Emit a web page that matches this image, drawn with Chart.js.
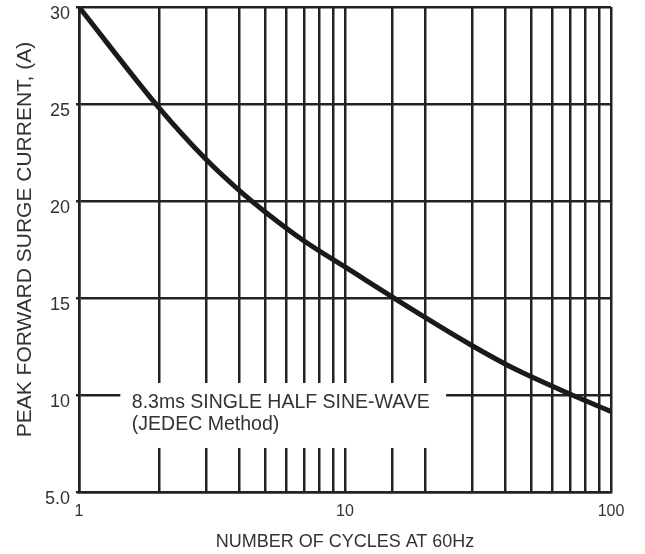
<!DOCTYPE html>
<html>
<head>
<meta charset="utf-8">
<style>
  html, body { margin: 0; padding: 0; background: #fff; }
  #c { display: block; }
</style>
<script src="https://cdn.jsdelivr.net/npm/chart.js@4.4.1/dist/chart.umd.min.js"></script>
</head>
<body>
<canvas id="c" width="645" height="554"></canvas>
<script>
// ---- data ----
const cycles  = [1, 2, 3, 4, 5, 7, 10, 20, 30, 40, 50, 70, 100];
const current = [30, 24.8, 22.15, 20.55, 19.45, 17.95, 16.6, 14.0, 12.55, 11.6, 10.95, 10.05, 9.15];

const xLabelTicks = [1, 10, 100];
const yTicks = [5, 10, 15, 20, 25, 30];
const yTickLabels = ['5.0', '10', '15', '20', '25', '30'];

const xTitle = 'NUMBER OF CYCLES AT 60Hz';
const yTitle = 'PEAK FORWARD SURGE CURRENT, (A)';

const noteLines = ['8.3ms SINGLE HALF SINE-WAVE', '(JEDEC Method)'];
const noteBoxX = [1.43, 24];     // in cycles (data units)
const noteBoxY = [7.27, 10.62];  // in amps (data units)
const noteTextX = 1.58;
const noteTextY = [9.6, 8.45];

// ---- chart ----
const INK = '#222222';
const TXT = '#333333';
const FAMILY = "'Liberation Sans', Arial, sans-serif";
Chart.defaults.font.family = FAMILY;
Chart.defaults.color = TXT;

const notePlugin = {
  id: 'note',
  beforeDatasetsDraw(chart) {
    const ctx = chart.ctx;
    const xs = chart.scales.x, ys = chart.scales.y;
    const x0 = xs.getPixelForValue(noteBoxX[0]), x1 = xs.getPixelForValue(noteBoxX[1]);
    const y0 = ys.getPixelForValue(noteBoxY[1]), y1 = ys.getPixelForValue(noteBoxY[0]);
    ctx.save();
    ctx.fillStyle = '#ffffff';
    ctx.fillRect(x0, y0, x1 - x0, y1 - y0);
    ctx.fillStyle = TXT;
    ctx.font = "19.5px " + FAMILY;
    ctx.textAlign = 'left';
    ctx.textBaseline = 'middle';
    const tx = xs.getPixelForValue(noteTextX);
    noteLines.forEach((s, i) => ctx.fillText(s, tx, ys.getPixelForValue(noteTextY[i])));
    ctx.restore();
  },
  afterDraw(chart) {
    // y-axis title, centred slightly above the plot centre as in the reference
    const ctx = chart.ctx;
    const a = chart.chartArea;
    ctx.save();
    ctx.translate(25, (a.top + a.bottom) / 2 - 10);
    ctx.rotate(-Math.PI / 2);
    ctx.fillStyle = TXT;
    ctx.font = "21px " + FAMILY;
    ctx.textAlign = 'center';
    ctx.textBaseline = 'middle';
    ctx.fillText(yTitle, 0, 0);
    ctx.restore();
  }
};

new Chart(document.getElementById('c'), {
  type: 'line',
  data: {
    datasets: [{
      data: cycles.map((c, i) => ({ x: c, y: current[i] })),
      borderColor: '#1a1a1a',
      borderWidth: 5,
      pointRadius: 0,
      fill: false,
      cubicInterpolationMode: 'monotone'
    }]
  },
  options: {
    responsive: false,
    animation: false,
    layout: { padding: { top: 7, right: 34, bottom: 0, left: 0 } },
    plugins: { legend: { display: false }, tooltip: { enabled: false } },
    scales: {
      x: {
        type: 'logarithmic',
        min: 1, max: 100,
        afterFit(s) { s.height = 62; s.paddingLeft = 0; s.paddingRight = 0; },
        grid: { color: INK, lineWidth: 2.5, drawTicks: false },
        border: { color: INK, width: 2.5 },
        ticks: {
          autoSkip: false, maxRotation: 0, padding: 10,
          font: { size: 16 },
          callback: (v) => xLabelTicks.includes(v) ? String(v) : ''
        },
        title: { display: true, text: xTitle, font: { size: 18 }, padding: { top: 0, bottom: 1 } }
      },
      y: {
        min: 5, max: 30,
        afterFit(s) { s.width = 79; s.paddingTop = 0; s.paddingBottom = 0; },
        afterBuildTicks(s) { s.ticks = yTicks.map(v => ({ value: v })); },
        grid: { color: INK, lineWidth: 2.5, tickLength: 3 },
        border: { color: INK, width: 2.5 },
        ticks: {
          padding: 6, labelOffset: 7,
          font: { size: 18 },
          callback: (v) => yTickLabels[yTicks.indexOf(v)]
        },
        title: { display: false }
      }
    }
  },
  plugins: [notePlugin]
});
</script>
</body>
</html>
